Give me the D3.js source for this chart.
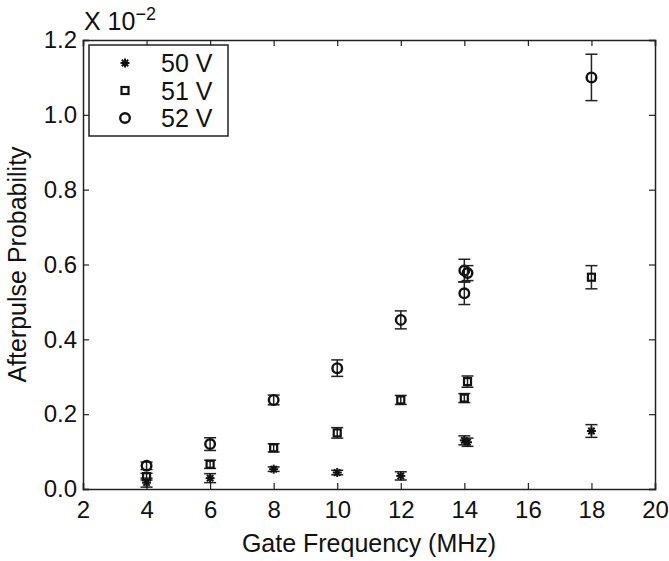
<!DOCTYPE html>
<html>
<head>
<meta charset="utf-8">
<script src="https://cdn.jsdelivr.net/npm/d3@7"></script>
<style>
  body { margin: 0; background: #fff; }
  text { font-family: "Liberation Sans", Arial, sans-serif; fill: #111; }
</style>
</head>
<body>
<div id="chart-area"></div>
<script>
// Data (values in units of 10^-2)
var freq50 = [4, 6, 8, 10, 12, 14, 14.1, 18];
var prob50 = [0.017, 0.029, 0.053, 0.044, 0.035, 0.130, 0.125, 0.155];
var err50  = [0.012, 0.012, 0.006, 0.006, 0.011, 0.012, 0.011, 0.017];

var freq51 = [4, 6, 8, 10, 12, 14, 14.1, 18];
var prob51 = [0.033, 0.066, 0.110, 0.150, 0.238, 0.243, 0.287, 0.566];
var err51  = [0.009, 0.011, 0.011, 0.014, 0.012, 0.012, 0.015, 0.031];

var freq52 = [4, 6, 8, 10, 12, 14, 14, 14.1, 18];
var prob52 = [0.062, 0.120, 0.238, 0.323, 0.452, 0.523, 0.584, 0.577, 1.100];
var err52  = [0.010, 0.017, 0.013, 0.022, 0.024, 0.030, 0.030, 0.020, 0.062];

var xTicks = [2, 4, 6, 8, 10, 12, 14, 16, 18, 20];
var yTicks = [0, 0.2, 0.4, 0.6, 0.8, 1.0, 1.2];
var legendLabels = ["50 V", "51 V", "52 V"];

var margin = {top: 40, right: 14, bottom: 72, left: 83},
    width = 669 - margin.left - margin.right,
    height = 561 - margin.top - margin.bottom;

var svg = d3.select("#chart-area").append("svg")
    .attr("width", 669)
    .attr("height", 561)
    .append("g")
    .attr("transform", "translate(" + margin.left + "," + margin.top + ")");

var x = d3.scaleLinear().domain([2, 20]).range([0, width]);
var y = d3.scaleLinear().domain([0, 1.2]).range([height, 0]);

var axisColor = "#222";

// axes (ticks inward, mirrored on top/right)
var xAxis = d3.axisBottom(x).tickValues(xTicks).tickSize(-6).tickPadding(12).tickFormat(d3.format("d"));
var yAxis = d3.axisLeft(y).tickValues(yTicks).tickSize(-6).tickPadding(6).tickFormat(d3.format(".1f"));

var gx = svg.append("g").attr("transform", "translate(0," + height + ")").call(xAxis);
var gy = svg.append("g").call(yAxis);
svg.append("g").call(d3.axisTop(x).tickValues(xTicks).tickSize(-6).tickFormat(""));
svg.append("g").attr("transform", "translate(" + width + ",0)")
    .call(d3.axisRight(y).tickValues(yTicks).tickSize(-6).tickFormat(""));

svg.selectAll(".domain").attr("stroke", axisColor).attr("stroke-width", 1.5);
svg.selectAll(".tick line").attr("stroke", axisColor).attr("stroke-width", 1.2);
svg.selectAll(".tick text").style("font-size", "24px").attr("fill", "#111");
gx.selectAll(".tick text").attr("dy", "0.72em");

// axis labels
svg.append("text")
    .attr("x", width / 2).attr("y", height + 63)
    .attr("text-anchor", "middle")
    .style("font-size", "25px")
    .text("Gate Frequency (MHz)");

svg.append("text")
    .attr("transform", "translate(" + (-57) + "," + (height / 2) + ") rotate(-90)")
    .attr("text-anchor", "middle")
    .style("font-size", "25px")
    .text("Afterpulse Probability");

var expo = svg.append("text").attr("x", 1).attr("y", -10).style("font-size", "25px");
expo.append("tspan").text("X 10");
expo.append("tspan").attr("dy", -10).style("font-size", "18px").text("\u22122");

// markers
function drawStar(g, s) {
  for (var i = 0; i < 4; i++) {
    var a = i * Math.PI / 4;
    g.append("line")
      .attr("x1", -s * Math.cos(a)).attr("y1", -s * Math.sin(a))
      .attr("x2", s * Math.cos(a)).attr("y2", s * Math.sin(a))
      .attr("stroke", "#111").attr("stroke-width", 2);
  }
}
function drawSquare(g) {
  g.append("rect").attr("x", -3.5).attr("y", -3.5).attr("width", 7).attr("height", 7)
    .attr("fill", "none").attr("stroke", "#111").attr("stroke-width", 2.2);
}
function drawCircle(g) {
  g.append("circle").attr("r", 4.8)
    .attr("fill", "none").attr("stroke", "#111").attr("stroke-width", 2.4);
}
var markerFns = [function (g) { drawStar(g, 4.5); }, drawSquare, drawCircle];

var series = [
  {xs: freq50, ys: prob50, es: err50},
  {xs: freq51, ys: prob51, es: err51},
  {xs: freq52, ys: prob52, es: err52}
];

series.forEach(function (s, k) {
  var data = s.xs.map(function (d, i) { return {x: d, y: s.ys[i], e: s.es[i]}; });
  var pts = svg.append("g").selectAll("g")
    .data(data)
    .enter().append("g");

  // error bars
  pts.append("line")
    .attr("x1", function (d) { return x(d.x); })
    .attr("x2", function (d) { return x(d.x); })
    .attr("y1", function (d) { return y(d.y - d.e); })
    .attr("y2", function (d) { return y(d.y + d.e); })
    .attr("stroke", "#222").attr("stroke-width", 1.5);
  [-1, 1].forEach(function (sg) {
    pts.append("line")
      .attr("x1", function (d) { return x(d.x) - 6; })
      .attr("x2", function (d) { return x(d.x) + 6; })
      .attr("y1", function (d) { return y(d.y + sg * d.e); })
      .attr("y2", function (d) { return y(d.y + sg * d.e); })
      .attr("stroke", "#222").attr("stroke-width", 1.5);
  });

  pts.append("g")
    .attr("transform", function (d) { return "translate(" + x(d.x) + "," + y(d.y) + ")"; })
    .each(function () { markerFns[k](d3.select(this)); });
});

// legend
var legend = svg.append("g").attr("transform", "translate(6,5)");
legend.append("rect").attr("width", 139).attr("height", 91)
  .attr("fill", "#fff").attr("stroke", axisColor).attr("stroke-width", 1.5);
legendLabels.forEach(function (lab, i) {
  var ly = 18 + i * 27.5;
  var m = legend.append("g").attr("transform", "translate(36," + ly + ")");
  markerFns[i](m);
  legend.append("text").attr("x", 72).attr("y", ly).attr("dy", "0.36em")
    .style("font-size", "25px").text(lab);
});
</script>
</body>
</html>
